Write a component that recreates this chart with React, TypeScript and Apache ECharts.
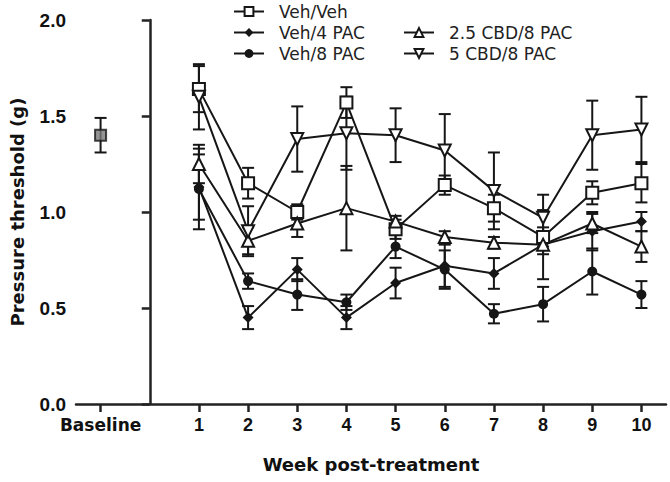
import React, { useEffect, useRef } from "react";
import * as echarts from "echarts";

const weeks = [1, 2, 3, 4, 5, 6, 7, 8, 9, 10];
const xTickValues = [-1, 1, 2, 3, 4, 5, 6, 7, 8, 9, 10];
const yTicks = [0, 0.5, 1.0, 1.5, 2.0];

const baselineValue = 1.4;
const baselineErr = 0.09;

const seriesNames = ["Veh/Veh", "Veh/4 PAC", "Veh/8 PAC", "2.5 CBD/8 PAC", "5 CBD/8 PAC"];

const vehVeh = [1.64, 1.15, 1.0, 1.57, 0.91, 1.14, 1.02, 0.87, 1.1, 1.15];
const vehVehErr = [0.12, 0.08, 0.04, 0.08, 0.05, 0.05, 0.07, 0.05, 0.06, 0.1];

const veh4 = [1.13, 0.45, 0.7, 0.45, 0.63, 0.72, 0.68, 0.83, 0.9, 0.95];
const veh4Err = [0.17, 0.06, 0.06, 0.06, 0.08, 0.11, 0.08, 0.18, 0.1, 0.05];

const veh8 = [1.12, 0.64, 0.57, 0.53, 0.82, 0.7, 0.47, 0.52, 0.69, 0.57];
const veh8Err = [0.21, 0.04, 0.08, 0.04, 0.06, 0.1, 0.05, 0.09, 0.12, 0.07];

const cbd25 = [1.25, 0.85, 0.94, 1.02, 0.95, 0.87, 0.84, 0.83, 0.94, 0.82];
const cbd25Err = [0.1, 0.07, 0.07, 0.22, 0.03, 0.03, 0.03, 0.05, 0.05, 0.08];

const cbd5 = [1.6, 0.9, 1.38, 1.41, 1.4, 1.32, 1.11, 0.97, 1.4, 1.43];
const cbd5Err = [0.17, 0.13, 0.17, 0.19, 0.14, 0.19, 0.2, 0.12, 0.18, 0.17];

const INK = "#161616";
const DOWN_TRI = "path://M0,0 L10,0 L5,9 Z";

function pairs(vals: number[]) {
  return weeks.map((w, i) => [w, vals[i]]);
}
function errData(vals: number[], errs: number[]) {
  return weeks.map((w, i) => [w, vals[i] - errs[i], vals[i] + errs[i]]);
}

const errRender = (params: any, api: any) => {
  const x = api.value(0);
  const lo = api.coord([x, api.value(1)]);
  const hi = api.coord([x, api.value(2)]);
  const w = 6;
  const st = { stroke: INK, lineWidth: 2 };
  return {
    type: "group",
    children: [
      { type: "line", shape: { x1: hi[0], y1: hi[1], x2: lo[0], y2: lo[1] }, style: st },
      { type: "line", shape: { x1: hi[0] - w, y1: hi[1], x2: hi[0] + w, y2: hi[1] }, style: st },
      { type: "line", shape: { x1: lo[0] - w, y1: lo[1], x2: lo[0] + w, y2: lo[1] }, style: st },
    ],
  };
};

function errSeries(data: number[][]) {
  return {
    type: "custom",
    renderItem: errRender,
    data,
    encode: { x: 0, y: [1, 2] },
    z: 2,
    silent: true,
  };
}

function lineSeries(name: string, vals: number[], symbol: string, size: number, fill: string) {
  return {
    name,
    type: "line",
    data: pairs(vals),
    symbol,
    symbolSize: size,
    showAllSymbol: true,
    lineStyle: { color: INK, width: 2 },
    itemStyle: { color: fill, borderColor: INK, borderWidth: fill === INK ? 0 : 2 },
    z: 3,
  };
}

export default function App() {
  const ref = useRef<HTMLDivElement>(null);
  useEffect(() => {
    if (!ref.current) return;
    const chart = echarts.init(ref.current, null, { renderer: "svg" });
    const legendText = { fontFamily: "DejaVu Sans", fontSize: 17, color: "#222", padding: [0, 0, 0, 10] };
    chart.setOption({
      animation: false,
      backgroundColor: "#fff",
      grid: { left: 71, right: 4, top: 20, bottom: 78, containLabel: false },
      legend: [
        {
          data: seriesNames.slice(0, 3),
          orient: "vertical",
          left: 233,
          top: 3,
          padding: 0,
          itemWidth: 30,
          itemHeight: 11,
          itemGap: 4,
          textStyle: legendText,
          selectedMode: false,
        },
        {
          data: seriesNames.slice(3),
          orient: "vertical",
          left: 403,
          top: 24,
          padding: 0,
          itemWidth: 30,
          itemHeight: 11,
          itemGap: 4,
          textStyle: legendText,
          selectedMode: false,
        },
      ],
      xAxis: {
        type: "value",
        min: -1.5,
        max: 10.5,
        name: "Week post-treatment",
        nameLocation: "middle",
        nameGap: 51,
        nameTextStyle: { fontFamily: "DejaVu Sans", fontWeight: "bold", fontSize: 18, color: "#111" },
        splitLine: { show: false },
        axisLine: { show: true, lineStyle: { color: "#222", width: 2.5 } },
        axisTick: { show: true, customValues: xTickValues, length: 8, lineStyle: { color: "#222", width: 2.5 } },
        axisLabel: {
          customValues: xTickValues,
          margin: 12,
          fontFamily: "Liberation Sans",
          fontWeight: "bold",
          fontSize: 18,
          color: "#111",
          formatter: (v: number) => (v === -1 ? "{b|Baseline}" : String(v)),
          rich: { b: { fontFamily: "DejaVu Sans", fontWeight: "bold", fontSize: 17, color: "#111" } },
        },
      },
      yAxis: {
        type: "value",
        min: 0,
        max: 2,
        interval: 0.5,
        name: "Pressure threshold (g)",
        nameLocation: "middle",
        nameGap: 50,
        nameTextStyle: { fontFamily: "DejaVu Sans", fontWeight: "bold", fontSize: 18, color: "#111" },
        splitLine: { show: false },
        axisLine: { show: true, lineStyle: { color: "#222", width: 2.5 } },
        axisTick: { show: true, length: 8, lineStyle: { color: "#222", width: 2.5 } },
        axisLabel: {
          margin: 10,
          fontFamily: "Liberation Sans",
          fontWeight: "bold",
          fontSize: 19,
          color: "#111",
          formatter: (v: number) => (yTicks.includes(v) ? v.toFixed(1) : ""),
        },
      },
      series: [
        errSeries([[-1, baselineValue - baselineErr, baselineValue + baselineErr]]),
        errSeries(errData(vehVeh, vehVehErr)),
        errSeries(errData(veh4, veh4Err)),
        errSeries(errData(veh8, veh8Err)),
        errSeries(errData(cbd25, cbd25Err)),
        errSeries(errData(cbd5, cbd5Err)),
        {
          name: "Baseline",
          type: "scatter",
          data: [[-1, baselineValue]],
          symbol: "rect",
          symbolSize: 11,
          itemStyle: { color: "#7a7a7a", borderColor: INK, borderWidth: 2 },
          z: 3,
        },
        lineSeries(seriesNames[0], vehVeh, "rect", 12, "#fff"),
        lineSeries(seriesNames[1], veh4, "diamond", 11, INK),
        lineSeries(seriesNames[2], veh8, "circle", 10, INK),
        lineSeries(seriesNames[3], cbd25, "triangle", 12, "#fff"),
        lineSeries(seriesNames[4], cbd5, DOWN_TRI, 12, "#fff"),
      ],
    });
    return () => chart.dispose();
  }, []);
  return (
    <div
      ref={ref}
      style={{ position: "fixed", left: 0, top: 0, width: 670, height: 482, background: "#fff" }}
    />
  );
}
